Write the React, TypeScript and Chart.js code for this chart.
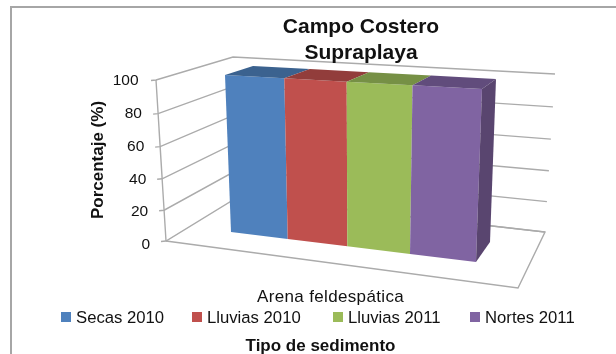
import React, { useEffect, useRef } from "react";
import { Chart, registerables } from "chart.js";

Chart.register(...registerables);

const categories = ["Arena feldespática"];
const secas2010 = [100];
const lluvias2010 = [100];
const lluvias2011 = [100];
const nortes2011 = [100];
const seriesNames = ["Secas 2010", "Lluvias 2010", "Lluvias 2011", "Nortes 2011"];
const seriesColors = ["#4F81BD", "#C0504D", "#9BBB59", "#8064A2"];
const topColors = ["#3B628F", "#923D3B", "#769045", "#614C7C"];
const sideColors = ["#34567E", "#803533", "#677E3C", "#59456F"];
const titleLines = ["Campo Costero", "Supraplaya"];
const yTitle = "Porcentaje (%)";
const xTitle = "Tipo de sedimento";

type P = [number, number];
const FONT = '"Liberation Sans", Arial, sans-serif';
const TEXT = "#111";
const GRID = "#ABABAB";

// unit square -> quad: (0,0)=p0 (1,0)=p1 (1,1)=p2 (0,1)=p3
function quad(p0: P, p1: P, p2: P, p3: P) {
  const dx1 = p1[0] - p2[0], dx2 = p3[0] - p2[0], sx = p0[0] - p1[0] + p2[0] - p3[0];
  const dy1 = p1[1] - p2[1], dy2 = p3[1] - p2[1], sy = p0[1] - p1[1] + p2[1] - p3[1];
  const den = dx1 * dy2 - dx2 * dy1;
  const g = (sx * dy2 - dx2 * sy) / den;
  const h = (dx1 * sy - sx * dy1) / den;
  const a = p1[0] - p0[0] + g * p1[0], b = p3[0] - p0[0] + h * p3[0], c = p0[0];
  const d = p1[1] - p0[1] + g * p1[1], e = p3[1] - p0[1] + h * p3[1], f = p0[1];
  return (u: number, v: number): P => {
    const w = g * u + h * v + 1;
    return [(a * u + b * v + c) / w, (d * u + e * v + f) / w];
  };
}

// projected frame of the 3-D view (u along the category axis, v along the value axis)
const frontFace = quad([231, 232], [476, 262], [482, 89], [225, 75]);
const backFace = quad([256, 216], [490, 242], [496, 79], [253, 66]);
const backWall = quad([238, 197], [545, 232], [555, 74], [233, 57]);
const leftWall = quad([166, 241], [238, 197], [233, 57], [156, 80]);

function poly(ctx: CanvasRenderingContext2D, pts: P[]) {
  ctx.beginPath();
  pts.forEach((p, i) => (i ? ctx.lineTo(p[0], p[1]) : ctx.moveTo(p[0], p[1])));
}

function text(
  ctx: CanvasRenderingContext2D,
  s: string,
  x: number,
  y: number,
  font: string,
  align: CanvasTextAlign = "center",
  rot = 0,
  spacing = 0
) {
  ctx.save();
  ctx.translate(x, y);
  ctx.rotate(rot);
  ctx.font = font;
  (ctx as any).letterSpacing = `${spacing}px`;
  ctx.fillStyle = TEXT;
  ctx.textAlign = align;
  ctx.textBaseline = "middle";
  ctx.fillText(s, 0, 0);
  ctx.restore();
}

const view3d = {
  id: "view3d",
  beforeDatasetsDraw(chart: any) {
    const { ctx, chartArea: ca, scales } = chart;
    const yScale = scales.y;
    const xScale = scales.x;
    const vOf = (py: number) => (ca.bottom - py) / (ca.bottom - ca.top);
    ctx.save();

    // frame
    ctx.strokeStyle = "#A6A6A6";
    ctx.lineWidth = 2;
    ctx.beginPath();
    ctx.moveTo(11, 354);
    ctx.lineTo(11, 7);
    ctx.lineTo(616, 7);
    ctx.stroke();

    // walls, grid and floor
    ctx.strokeStyle = GRID;
    ctx.lineWidth = 1.4;
    yScale.ticks.forEach((t: any) => {
      const v = vOf(yScale.getPixelForValue(t.value));
      const a = leftWall(0, v);
      const b = leftWall(1, v);
      const c = backWall(1, v);
      poly(ctx, [[a[0] - 5, a[1] + 0.5], a, b, c]);
      ctx.stroke();
      const labelX = 138.5 + 11.5 * Math.pow(1 - v, 0.75);
      const labelY = 245 - 164 * v;
      text(ctx, String(t.value), labelX, labelY, `15.5px ${FONT}`, "right");
    });
    poly(ctx, [leftWall(0, 0), leftWall(0, 1)]);
    ctx.stroke();
    poly(ctx, [[166, 241], [518, 288], [545, 232], [238, 197]]);
    ctx.stroke();

    // bars, from the elements that Chart.js laid out on its scales
    chart.data.datasets.forEach((ds: any, i: number) => {
      chart.getDatasetMeta(i).data.forEach((bar: any) => {
        const u0 = (bar.x - bar.width / 2 - ca.left) / ca.width;
        const u1 = (bar.x + bar.width / 2 - ca.left) / ca.width;
        const v = vOf(bar.y);
        const v0 = vOf(bar.base);
        ctx.fillStyle = ds.backgroundColor;
        poly(ctx, [frontFace(u0, v0), frontFace(u1, v0), frontFace(u1, v), frontFace(u0, v)]);
        ctx.closePath();
        ctx.fill();
        ctx.fillStyle = topColors[i];
        poly(ctx, [frontFace(u0, v), frontFace(u1, v), backFace(u1, v), backFace(u0, v)]);
        ctx.closePath();
        ctx.fill();
        if (i === chart.data.datasets.length - 1) {
          ctx.fillStyle = sideColors[i];
          poly(ctx, [frontFace(u1, v0), backFace(u1, v0), backFace(u1, v), frontFace(u1, v)]);
          ctx.closePath();
          ctx.fill();
        }
      });
    });

    // texts
    titleLines.forEach((s, i) => text(ctx, s, 361, 27 + i * 26, `bold 21px ${FONT}`));
    text(ctx, yTitle, 98.5, 160, `bold 17px ${FONT}`, "center", -Math.PI / 2);
    text(ctx, String(xScale.getLabels()[0]), 330.5, 297, `17px ${FONT}`, "center", 0, 0.35);
    text(ctx, xTitle, 320.5, 346, `bold 17px ${FONT}`);

    // legend
    const legendX = [61, 192, 333, 470];
    chart.data.datasets.forEach((ds: any, i: number) => {
      ctx.fillStyle = ds.backgroundColor;
      ctx.fillRect(legendX[i], 312, 10, 10);
      text(ctx, ds.label, legendX[i] + 15, 318, `16.7px ${FONT}`, "left");
    });
    ctx.restore();
    return false;
  },
};

export default function App() {
  const ref = useRef<HTMLCanvasElement>(null);
  useEffect(() => {
    document.body.style.margin = "0";
    const values = [secas2010, lluvias2010, lluvias2011, nortes2011];
    const chart = new Chart(ref.current as HTMLCanvasElement, {
      type: "bar",
      data: {
        labels: categories,
        datasets: values.map((data, i) => ({
          label: seriesNames[i],
          data,
          backgroundColor: seriesColors[i],
          categoryPercentage: 1,
          barPercentage: 1,
        })),
      },
      options: {
        animation: false,
        responsive: false,
        layout: { padding: { left: 225, right: 134, top: 75, bottom: 122 } },
        plugins: { legend: { display: false }, title: { display: false }, tooltip: { enabled: false } },
        scales: {
          x: { display: false },
          y: { display: false, min: 0, max: 100, ticks: { stepSize: 20 } },
        },
      },
      plugins: [view3d],
    } as any);
    return () => chart.destroy();
  }, []);
  return <canvas ref={ref} width={616} height={354} style={{ display: "block", background: "#fff" }} />;
}
